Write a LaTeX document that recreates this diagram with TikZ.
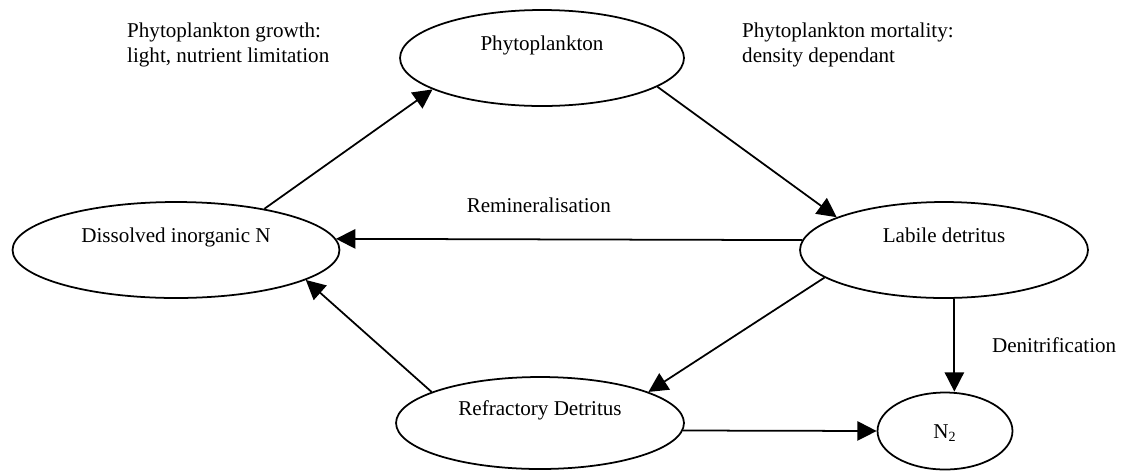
\documentclass[tikz,border=0pt]{standalone}
\usepackage{fontspec}
\setmainfont{Liberation Serif}
\usetikzlibrary{shapes.geometric,arrows.meta}
\begin{document}
\begin{tikzpicture}[x=0.02cm,y=-0.02cm,
  pool/.style={draw,ellipse,line width=1pt,inner sep=0pt,font=\fontsize{12}{14.2}\selectfont,text height=8pt,text depth=16pt},
  flux/.style={line width=1pt,-{Triangle[length=11pt,width=11pt]}},
  note/.style={font=\fontsize{12}{14.2}\selectfont,align=left}]
\useasboundingbox (0,0) rectangle (1121,471);
\node[pool,minimum width=5.68cm,minimum height=1.92cm] (phyto) at (542,58) {Phytoplankton};
\node[pool,minimum width=6.54cm,minimum height=1.92cm] (din) at (176,250) {Dissolved inorganic N};
\node[pool,minimum width=5.76cm,minimum height=1.92cm] (labile) at (944,250) {Labile detritus};
\node[pool,minimum width=5.76cm,minimum height=1.84cm] (refr) at (540,423) {Refractory Detritus};
\node[pool,minimum width=2.7cm,minimum height=1.54cm,text depth=0pt] (n2) at (945,431) {N\textsubscript{2}};
\node[note,anchor=west] (growth) at (121,45) {Phytoplankton growth:\\light, nutrient limitation};
\node[note,anchor=west] (mort) at (736,45) {Phytoplankton mortality:\\density dependant};
\draw[flux] (din.25) -- (phyto.196);
\draw[flux] (phyto.346) -- (labile.163);
\draw[flux] (labile.176) -- (din.4) node[note,pos=0.565,above=0.4cm] {Remineralisation};
\draw[flux] (labile.193) -- (refr.16);
\draw[flux] (refr.164) -- (din.347);
\draw[flux] (refr.357) -- (n2.west);
\draw[flux] (labile.282) -- (labile.282 |- n2.north) node[note,midway,right=0.62cm] {Denitrification};
\end{tikzpicture}
\end{document}
